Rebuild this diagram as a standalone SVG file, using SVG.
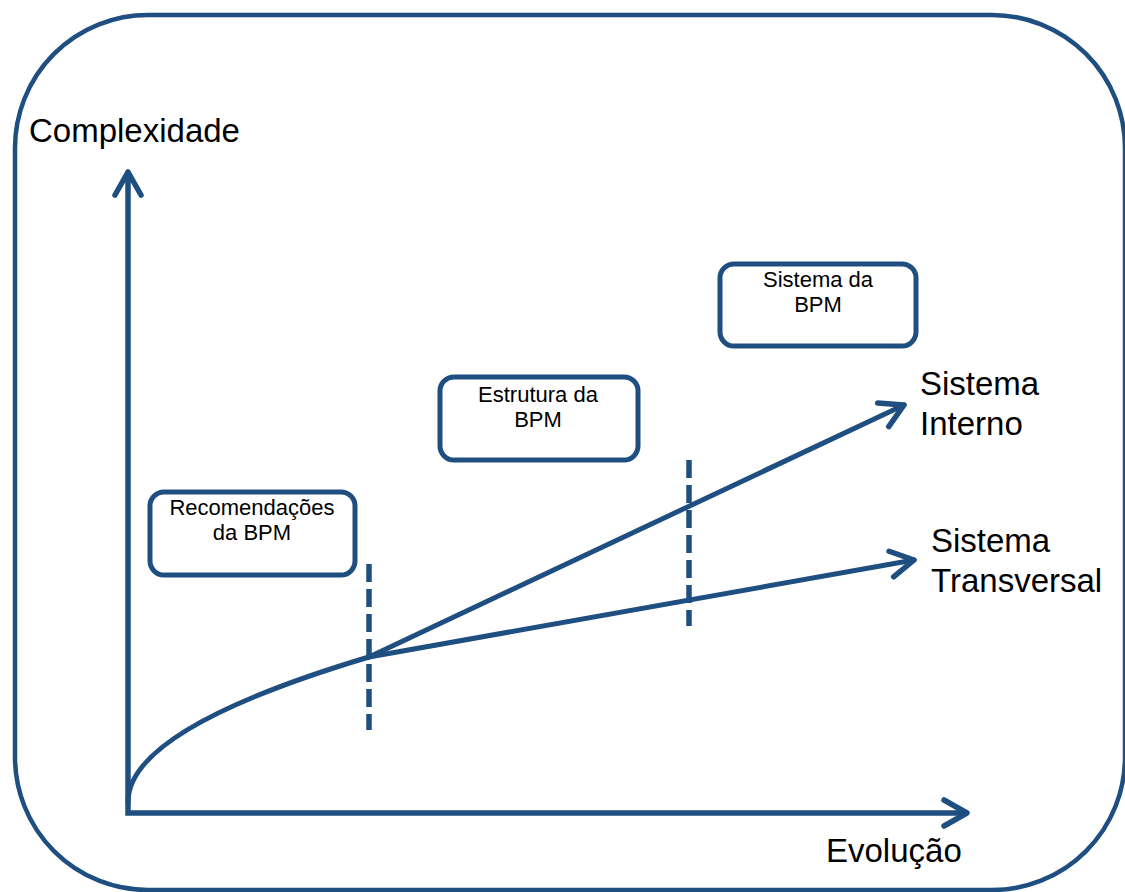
<svg xmlns="http://www.w3.org/2000/svg" width="1125" height="892" viewBox="0 0 1125 892">
<style>
.ln{fill:none;stroke:#1F4E80;stroke-width:5;stroke-linecap:round;stroke-linejoin:round}
.ax{fill:none;stroke:#1F4E80;stroke-width:5.5;stroke-linejoin:miter}
.dash{fill:none;stroke:#1F4E80;stroke-width:5.5;stroke-dasharray:18 7}
.box{fill:#fff;stroke:#1F4E80;stroke-width:5}
.big{font-family:"Liberation Sans",Arial,sans-serif;font-size:33px;fill:#000}
.sm{font-family:"Liberation Sans",Arial,sans-serif;font-size:22px;fill:#000;text-anchor:middle}
</style>
<defs>
<marker id="ah" markerUnits="userSpaceOnUse" orient="auto-start-reverse" refX="0" refY="0" overflow="visible" markerWidth="1" markerHeight="1">
<path d="M-23,-13 L0,0 L-23,13" fill="none" stroke="#1F4E80" stroke-width="5.5" stroke-linecap="round" stroke-linejoin="round"/>
</marker>
</defs>
<rect x="0" y="0" width="1125" height="892" fill="#fff"/>
<g id="frame">
<rect x="15" y="15" width="1110" height="875" rx="133" ry="133" fill="none" stroke="#1F4E80" stroke-width="4.5"/>
</g>
<g id="connectors">
<path class="ax" d="M128,172 V813 H967" marker-start="url(#ah)" marker-end="url(#ah)"/>
<path class="ln" d="M128,802 Q128,729 369,657"/>
<path class="ln" d="M369,657 L904,405" marker-end="url(#ah)"/>
<path class="ln" d="M369,657 L914,560" marker-end="url(#ah)"/>
<path class="dash" d="M369,564 V730"/>
<path class="dash" d="M689,460 V626"/>
</g>
<g id="label-complexidade"><text class="big" x="29" y="142">Complexidade</text></g>
<g id="label-evolucao"><text class="big" x="826" y="862">Evolução</text></g>
<g id="label-interno"><text class="big" x="920" y="395">Sistema</text><text class="big" x="920" y="435">Interno</text></g>
<g id="label-transversal"><text class="big" x="931" y="552">Sistema</text><text class="big" x="931" y="592">Transversal</text></g>
<g id="box-recomendacoes">
<rect class="box" x="150" y="492" width="205" height="83" rx="14"/>
<text class="sm" x="252" y="515">Recomendações</text>
<text class="sm" x="252" y="540">da BPM</text>
</g>
<g id="box-estrutura">
<rect class="box" x="440" y="377" width="198" height="83" rx="14"/>
<text class="sm" x="538" y="402">Estrutura da</text>
<text class="sm" x="538" y="427">BPM</text>
</g>
<g id="box-sistema">
<rect class="box" x="720" y="264" width="196" height="82" rx="14"/>
<text class="sm" x="818" y="287">Sistema da</text>
<text class="sm" x="818" y="312">BPM</text>
</g>
</svg>
